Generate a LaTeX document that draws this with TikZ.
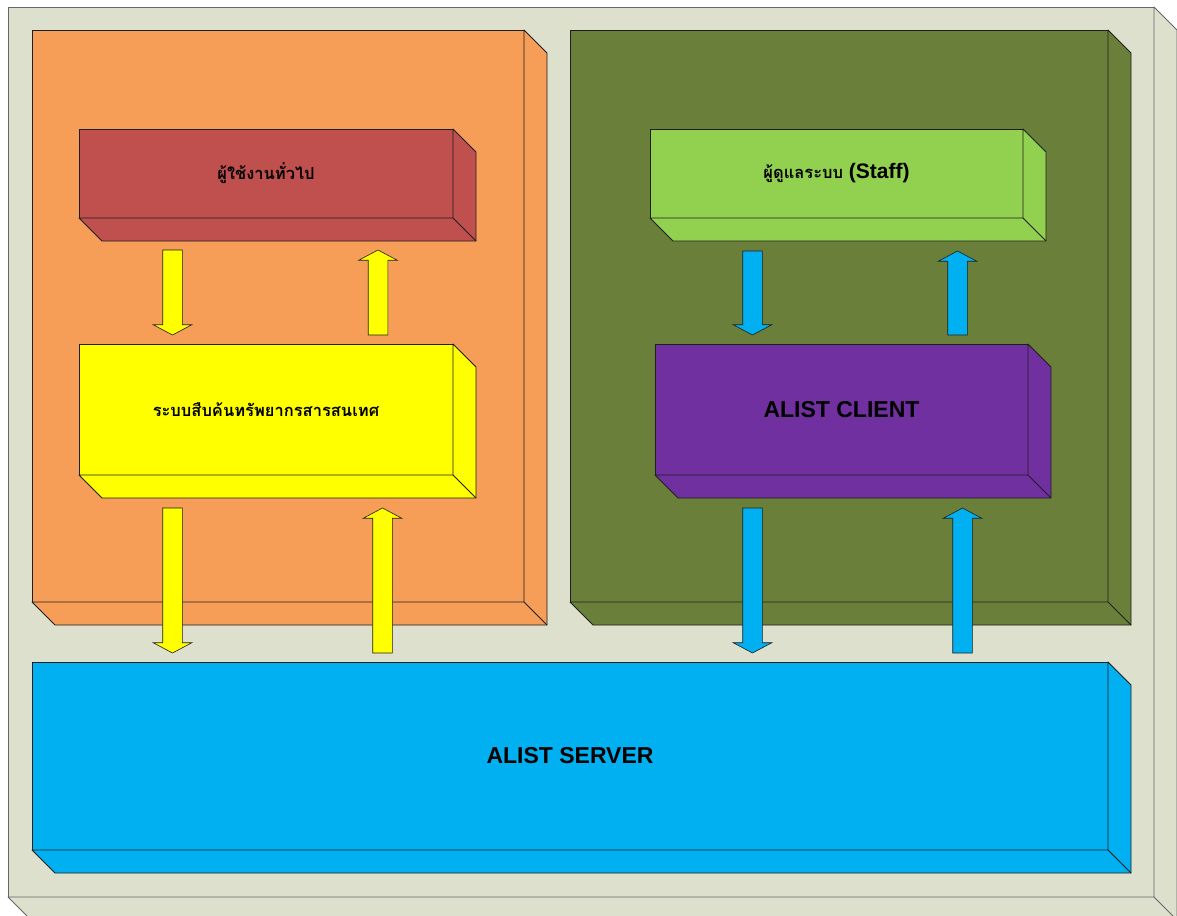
\documentclass[tikz,border=0pt]{standalone}
\usepackage{fontspec}
\setmainfont{Liberation Sans}
\newfontfamily\thaifont[Script=Thai]{Loma}
\usepackage{tikz}
\usetikzlibrary{shapes.arrows, positioning, calc}
\definecolor{framegrey}{RGB}{221,224,204}
\definecolor{panelorange}{RGB}{246,158,88}
\definecolor{paneloive}{RGB}{106,128,58}
\definecolor{userred}{RGB}{192,80,77}
\definecolor{opacyellow}{RGB}{255,255,0}
\definecolor{staffgreen}{RGB}{146,208,80}
\definecolor{clientpurple}{RGB}{112,48,160}
\definecolor{serverblue}{RGB}{0,176,240}
\definecolor{edgedark}{RGB}{30,30,30}

% right and bottom faces of a block: #1 node, #2 colour, #3 line colour
\newcommand{\sidefaces}[3]{%
    \filldraw[fill=#2, draw=#3, line width=0.8pt, line join=round]
        (#1.north east) -- ++(23pt,-23pt) -- ($(#1.south east)+(23pt,-23pt)$)
        -- ($(#1.south west)+(23pt,-23pt)$) -- (#1.south west) -- (#1.south east) -- cycle;
    \draw[#3, line width=0.8pt] (#1.south east) -- ++(23pt,-23pt);
}

\begin{document}
\begin{tikzpicture}[
    x=1pt, y=-1pt,
    block/.style={draw=edgedark, line width=0.8pt, anchor=north west, inner sep=0pt, outer sep=0pt, align=center},
    thaitext/.style={font=\thaifont\bfseries\fontsize{16.5}{20}\selectfont},
    bigtext/.style={font=\bfseries\fontsize{23}{27}\selectfont},
    blockarrow/.style={single arrow, draw=edgedark, line width=0.6pt, inner sep=9.5pt, outer sep=0pt, anchor=tip,
        single arrow head extend=9.5pt, single arrow tip angle=124, single arrow head indent=0pt},
    downarrow/.style={blockarrow, shape border rotate=270},
    uparrow/.style={blockarrow, shape border rotate=90}
]
    \useasboundingbox (0,0) rectangle (1177,915);

    % outer frame
    \node[block, draw=black!60, fill=framegrey, minimum width=1146pt, minimum height=890pt] (frame) at (8,7) {};
    \sidefaces{frame}{framegrey}{black!60}

    % panels
    \node[block, fill=panelorange, minimum width=492pt, minimum height=572pt] (leftpanel) at (32,30) {};
    \sidefaces{leftpanel}{panelorange}{edgedark}
    \node[block, fill=paneloive, minimum width=538pt, minimum height=572pt] (rightpanel) at (570,30) {};
    \sidefaces{rightpanel}{paneloive}{edgedark}

    % server
    \node[block, fill=serverblue, minimum width=1076pt, minimum height=188pt, bigtext] (server) at (32,662) {ALIST SERVER};
    \sidefaces{server}{serverblue}{edgedark}

    % left side
    \node[block, fill=userred, minimum width=374pt, minimum height=89pt, thaitext] (users) at (79,129) {ผู้ใช้งานทั่วไป};
    \sidefaces{users}{userred}{edgedark}
    \node[block, fill=opacyellow, minimum width=374pt, minimum height=131pt, thaitext] (opac) at (79,344) {ระบบสืบค้นทรัพยากรสารสนเทศ};
    \sidefaces{opac}{opacyellow}{edgedark}

    % right side
    \node[block, fill=staffgreen, minimum width=373pt, minimum height=89pt] (staff) at (650,129)
        {{\thaifont\bfseries\fontsize{16.5}{20}\selectfont ผู้ดูแลระบบ}{\bfseries\fontsize{21}{25}\selectfont\ (Staff)}};
    \sidefaces{staff}{staffgreen}{edgedark}
    \node[block, fill=clientpurple, minimum width=373pt, minimum height=131pt, bigtext] (client) at (655,344) {ALIST CLIENT};
    \sidefaces{client}{clientpurple}{edgedark}

    % arrows
    \node[downarrow, fill=opacyellow, minimum height=85pt] (usersdown) at (172.5,335) {};
    \node[uparrow, fill=opacyellow, minimum height=85pt] (usersup) at (378,250) {};
    \node[downarrow, fill=opacyellow, minimum height=145pt] (opacdown) at (172.5,653) {};
    \node[uparrow, fill=opacyellow, minimum height=145pt] (opacup) at (382.5,508) {};
    \node[downarrow, fill=serverblue, minimum height=84pt] (staffdown) at (752.5,335) {};
    \node[uparrow, fill=serverblue, minimum height=84pt] (staffup) at (957.5,251) {};
    \node[downarrow, fill=serverblue, minimum height=145pt] (clientdown) at (752.5,653) {};
    \node[uparrow, fill=serverblue, minimum height=145pt] (clientup) at (962.5,508) {};
\end{tikzpicture}
\end{document}
